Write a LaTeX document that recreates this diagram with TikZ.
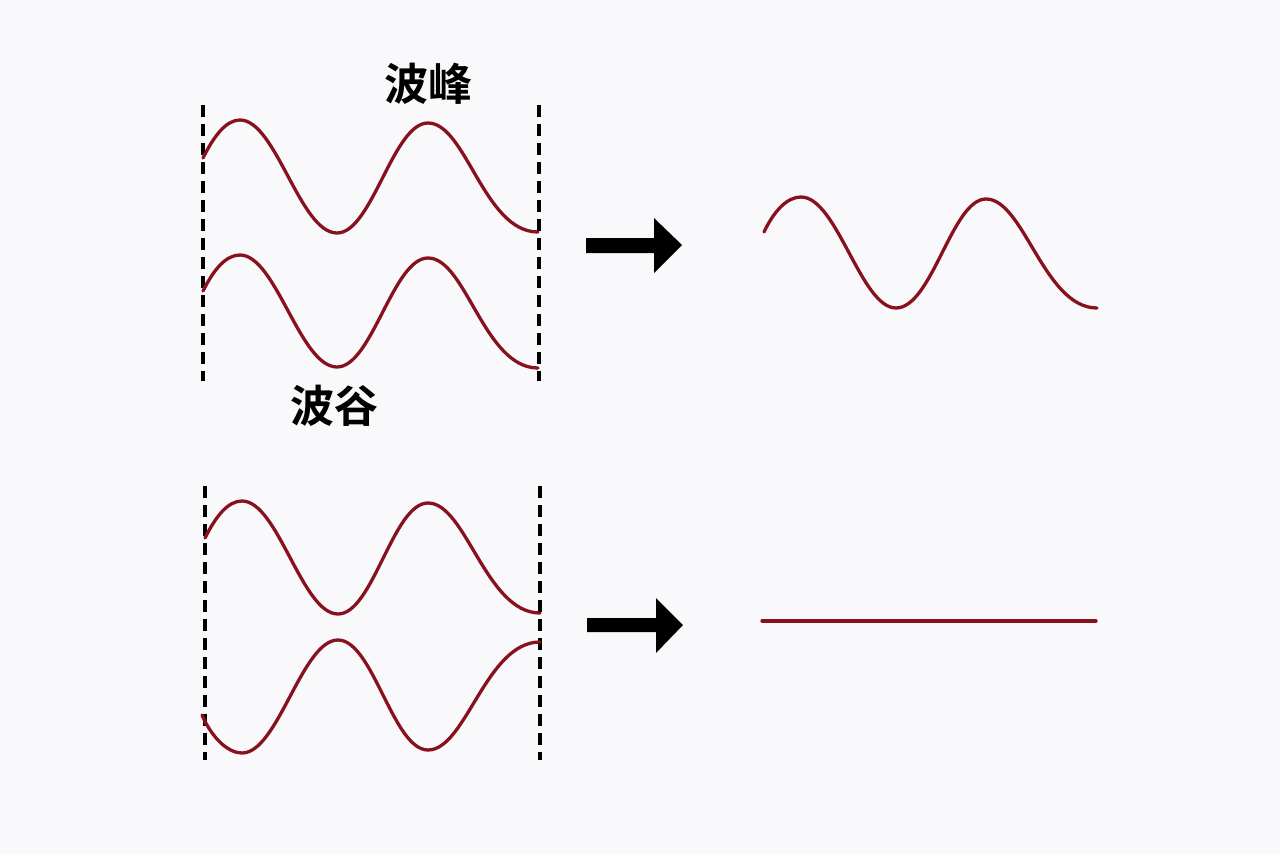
\documentclass[tikz,border=0pt]{standalone}
\usepackage{fontspec}
\newfontfamily\cjk{Noto Sans CJK SC}[BoldFont={Noto Sans CJK SC Bold}]
\definecolor{wavered}{RGB}{135,18,30}
\definecolor{bgwhite}{RGB}{249,249,251}
\begin{document}
\begin{tikzpicture}[x=1pt,y=-1pt,
  wave/.style={draw=wavered, line width=3.3pt, line cap=round},
  guide/.style={draw=black, line width=3.4pt, dash pattern=on 12pt off 7pt},
  blockarrow/.style={fill=black, draw=none},
  label/.style={font=\cjk\bfseries\fontsize{44}{44}\selectfont, text=black, inner sep=0pt}]
\fill[bgwhite] (0,0) rectangle (1280,854);
\useasboundingbox (0,0) rectangle (1280,854);

% guides
\draw[guide] (203,105) -- (203,381);
\draw[guide] (539,105) -- (539,381);
\draw[guide] (205,486) -- (205,760);
\draw[guide] (540,486) -- (540,760);

% top-left wave 1
\draw[wave] (203,158) .. controls (214,136) and (226,120) .. (240,120)
  .. controls (276,120) and (300,233) .. (337,233)
  .. controls (372,233) and (393,123) .. (428,123)
  .. controls (466,123) and (484,232) .. (538,232);
% top-left wave 2
\draw[wave] (203,291) .. controls (214,269) and (226,255) .. (240,255)
  .. controls (276,255) and (300,367) .. (337,367)
  .. controls (372,367) and (393,258) .. (428,258)
  .. controls (466,258) and (484,368) .. (538,368);

% bottom-left wave 3
\draw[wave] (205,538) .. controls (216,516) and (228,501) .. (242,501)
  .. controls (278,501) and (302,614) .. (338,614)
  .. controls (373,614) and (393,503) .. (428,503)
  .. controls (466,503) and (486,613) .. (540,613);
% bottom-left wave 4 (inverted)
\draw[wave] (202,715) .. controls (212,738) and (228,753) .. (242,753)
  .. controls (278,753) and (302,640) .. (338,640)
  .. controls (373,640) and (393,750) .. (428,750)
  .. controls (466,750) and (486,642) .. (540,642);

% right waves
\draw[wave] (764,232) .. controls (774,211) and (787,197) .. (801,197)
  .. controls (837,197) and (861,308) .. (896,308)
  .. controls (932,308) and (952,199) .. (986,199)
  .. controls (1024,199) and (1044,308) .. (1097,308);
\draw[wave] (762,621) -- (1096,621);

% block arrows
\fill[blockarrow] (586,238) -- (654,238) -- (654,218) -- (682,245) -- (654,273) -- (654,253) -- (586,253) -- cycle;
\fill[blockarrow] (587,618) -- (656,618) -- (656,598) -- (683,625) -- (656,653) -- (656,632) -- (587,632) -- cycle;

% labels
\node[label] (peak) at (428,84) {波峰};
\node[label] (trough) at (334,406) {波谷};
\end{tikzpicture}
\end{document}
